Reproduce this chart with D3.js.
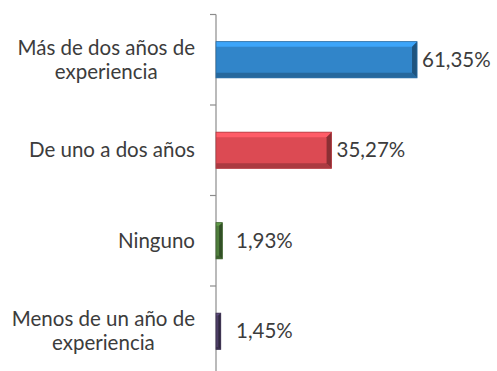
<!DOCTYPE html>
<html>
<head>
<meta charset="utf-8">
<script src="https://cdn.jsdelivr.net/npm/d3@7/dist/d3.min.js"></script>
<style>
  html, body { margin: 0; padding: 0; background: #fff; }
  svg { display: block; }
</style>
</head>
<body>
<svg id="chart" width="497" height="371"></svg>
<script>
// Experience categories (top to bottom), share of respondents in %
const categories = [
  ["Más de dos años de", "experiencia"],
  ["De uno a dos años"],
  ["Ninguno"],
  ["Menos de un año de", "experiencia"]
];
const values = [61.35, 35.27, 1.93, 1.45];
const valueLabels = ["61,35%", "35,27%", "1,93%", "1,45%"];
const barColors = ["#3185c9", "#dc4a53", "#4f7d3c", "#4d3f66"];

const svg = d3.select("#chart");
const axisX = 216;
const fontFamily = "Lato, 'Open Sans', sans-serif";
const textColor = "#3c3c3c";

const keys = categories.map(c => c.join(" "));
const y = d3.scaleBand().domain(keys).range([14.5, 376.5]).paddingInner(0).paddingOuter(0);
const x = d3.scaleLinear().domain([0, 70]).range([axisX, axisX + 229.4]);

const barH = y.bandwidth() * 0.4;
const data = keys.map((k, i) => ({ key: k, lines: categories[i], value: values[i], label: valueLabels[i], color: barColors[i] }));

// Vertical category axis with ticks at the band boundaries
const axisG = svg.append("g");
axisG.append("line")
  .attr("x1", axisX).attr("x2", axisX)
  .attr("y1", y.range()[0]).attr("y2", y.range()[1])
  .attr("stroke", "#8c8c8c").attr("stroke-width", 1.2);
const boundaries = keys.map(k => y(k)).concat([y.range()[1]]);
axisG.selectAll("line.tick").data(boundaries).join("line")
  .attr("class", "tick")
  .attr("x1", axisX - 6).attr("x2", axisX)
  .attr("y1", d => d).attr("y2", d => d)
  .attr("stroke", "#8c8c8c").attr("stroke-width", 1.2);

// Bevelled bars
const bars = svg.append("g").selectAll("g").data(data).join("g");
bars.each(function(d) {
  const g = d3.select(this);
  const x0 = x(0), x1 = x(d.value);
  const y0 = y(d.key) + (y.bandwidth() - barH) / 2, y1 = y0 + barH;
  const w = x1 - x0;
  const b = Math.min(5, w / 2);
  const base = d3.color(d.color);
  g.append("rect").attr("x", x0).attr("y", y0).attr("width", w).attr("height", barH).attr("fill", base);
  // top highlight
  g.append("polygon")
    .attr("points", [[x0, y0], [x1, y0], [x1 - b, y0 + b], [x0, y0 + b]].join(" "))
    .attr("fill", base.brighter(0.6));
  // bottom shade
  g.append("polygon")
    .attr("points", [[x0, y1], [x1, y1], [x1 - b, y1 - b], [x0, y1 - b]].join(" "))
    .attr("fill", base.darker(0.7));
  // right end
  g.append("polygon")
    .attr("points", [[x1, y0], [x1, y1], [x1 - b, y1 - b], [x1 - b, y0 + b]].join(" "))
    .attr("fill", base.darker(1.3));
  // thin outline
  g.append("rect").attr("x", x0).attr("y", y0).attr("width", w).attr("height", barH)
    .attr("fill", "none").attr("stroke", base.darker(0.6)).attr("stroke-width", 0.8);
});

// Value labels outside the bar ends
svg.append("g").selectAll("text").data(data).join("text")
  .attr("x", d => Math.max(x(d.value) + 5, axisX + 20))
  .attr("y", d => y(d.key) + y.bandwidth() / 2)
  .attr("dy", "0.35em")
  .attr("font-family", fontFamily)
  .attr("font-size", 20.5)
  .attr("fill", textColor)
  .text(d => d.label);

// Category labels, right-aligned block with centred lines
const lineH = 24;
const catG = svg.append("g").selectAll("text").data(data).join("text")
  .attr("font-family", fontFamily)
  .attr("font-size", 20.5)
  .attr("fill", textColor)
  .attr("text-anchor", "middle");
catG.each(function(d) {
  const t = d3.select(this);
  const cy = y(d.key) + y.bandwidth() / 2;
  const n = d.lines.length;
  d.lines.forEach((ln, i) => {
    t.append("tspan").attr("y", cy + (i - (n - 1) / 2) * lineH).attr("dy", "0.35em").text(ln);
  });
  // width of the widest line sets the centre so the block ends at x=195
  const spans = t.selectAll("tspan").nodes();
  const maxW = d3.max(spans, s => s.getComputedTextLength());
  spans.forEach(s => d3.select(s).attr("x", 195 - maxW / 2));
});
</script>
</body>
</html>
